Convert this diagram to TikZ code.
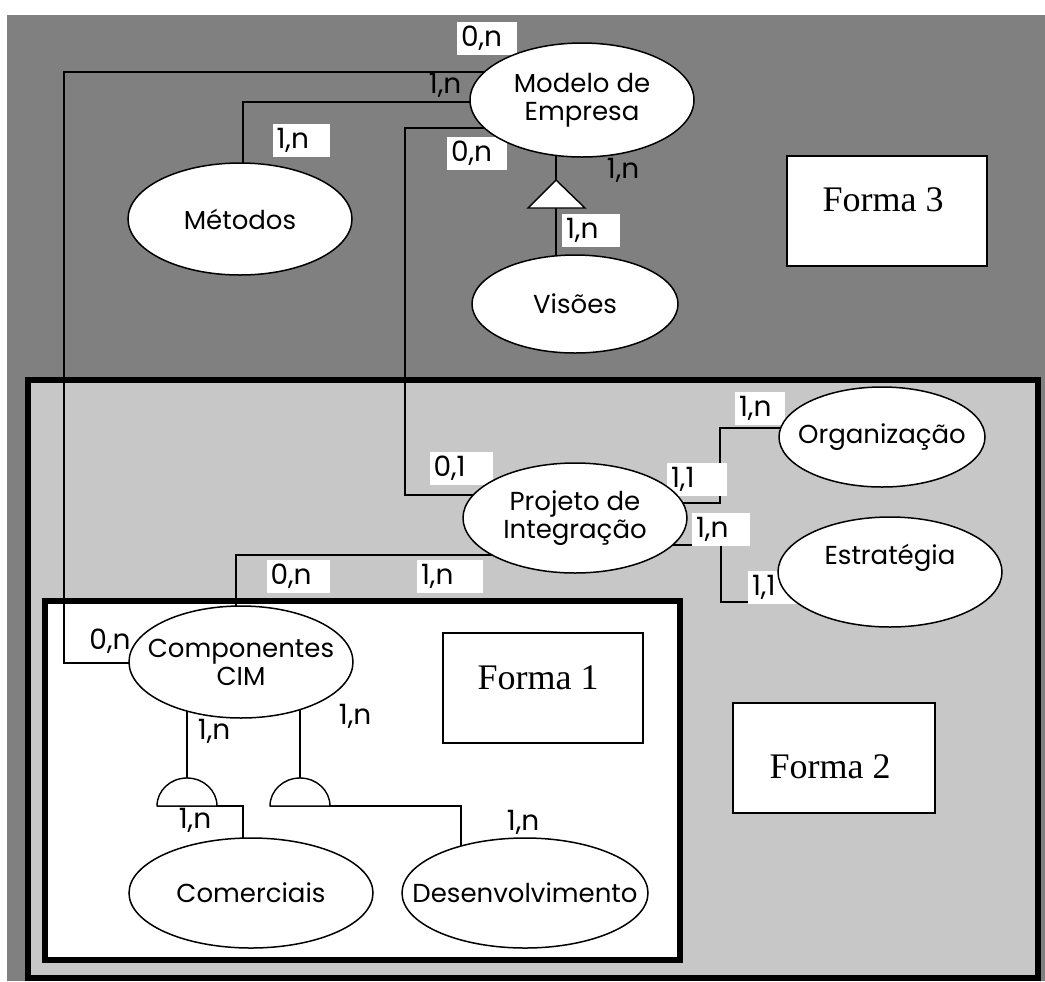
\documentclass[tikz,border=0pt]{standalone}
\usepackage{fontspec}
\setmainfont{Liberation Serif}
\newfontfamily\gothic{Poppins}
\newcommand\entfont{\gothic\fontsize{13}{14}\selectfont}
\newcommand\cardfont{\gothic\fontsize{14}{14}\selectfont}
\usetikzlibrary{shapes.geometric,calc}
\pgfdeclarelayer{back}
\pgfdeclarelayer{wires}
\pgfsetlayers{back,wires,main}

\begin{document}
\begin{tikzpicture}[x=0.5pt, y=-0.5pt,
  wire/.style={line width=0.7pt},
  ent/.style={draw, ellipse, fill=white, line width=0.75pt,
              inner xsep=-30pt, inner ysep=-10pt,
              align=center, font=\entfont},
  card/.style={fill=white, inner xsep=2pt, inner ysep=0pt, minimum height=16.5pt,
               text width=#1, align=left, font=\cardfont},
  card/.default=26pt,
  bare/.style={inner sep=0pt, font=\cardfont},
  formbox/.style={draw, fill=white, line width=0.75pt,
                  minimum width=100pt, minimum height=55pt},
  formtext/.style={font=\fontsize{18}{20}\selectfont, inner sep=0pt},
  frame/.style={line width=3pt},
  joint/.style={draw, fill=white, line width=0.7pt}]

\useasboundingbox (0,0) rectangle (1045,981);

% shaded areas of the three forms
\begin{pgfonlayer}{back}
  \fill[white] (0,0) rectangle (1045,981);
  \fill[black!50] (7,15) rectangle (1045,981);
  \draw[frame, fill=black!22] (28,380) rectangle (1038,978);
  \draw[frame, fill=white] (45,601) rectangle (680,960);
\end{pgfonlayer}

% cardinalities
\node[card] (l1) at (487,38) {0,n};
\node[bare] (l2) at (445,85) {1,n};
\node[card=24.5pt] (l3) at (301,140) {1,n};
\node[card] (l4) at (477,153) {0,n};
\node[bare] (l5) at (623,170) {1,n};
\node[card=25pt] (l6) at (591,230) {1,n};
\node[card=27.5pt] (l7) at (461,468) {0,1};
\node[card=27.5pt] (l8) at (298,576) {0,n};
\node[card=29pt] (l9) at (450,576) {1,n};
\node[card=21pt] (l10) at (760,408) {1,n};
\node[card=26pt] (l11) at (697,479) {1,1};
\node[card=25pt] (l12) at (721,529) {1,n};
\node[card=22pt] (l13) at (774,587) {1,1};
\node[bare] (l14) at (110,641) {0,n};
\node[bare] (l15) at (214,731) {1,n};
\node[bare] (l16) at (195,820) {1,n};
\node[bare] (l17) at (355,716) {1,n};
\node[bare] (l18) at (523,822) {1,n};

% entities
\node[ent, minimum width=112pt, minimum height=57pt] (modelo) at (582,100)
  {\fontsize{13}{12}\selectfont Modelo de\\Empresa};
\node[ent, minimum width=112pt, minimum height=56pt] (metodos) at (240,219) {Métodos};
\node[ent, minimum width=103pt, minimum height=49pt] (visoes) at (575,304) {Visões};
\node[ent, minimum width=112pt, minimum height=55pt] (projeto) at (575,518)
  {\fontsize{13}{19}\selectfont Projeto de\\Integração};
\node[ent, minimum width=103pt, minimum height=50pt] (organizacao) at (882,437) {Organização};
\node[ent, minimum width=112pt, minimum height=55pt] (estrategia) at (890,572) {};
\node[inner sep=0pt, font=\entfont] (estrtext) at (890,558) {Estratégia};
\node[ent, minimum width=112pt, minimum height=56pt] (comp) at (241,662)
  {\fontsize{13}{16.5}\selectfont Componentes\\CIM};
\node[ent, minimum width=122pt, minimum height=55pt] (comerciais) at (251,893) {Comerciais};
\node[ent, minimum width=123pt, minimum height=55pt] (desenv) at (525,893) {Desenvolvimento};

% form captions
\node[formbox] (f3) at (887,211) {};
\node[formtext] (f3t) at (883,200) {Forma 3};
\node[formbox] (f1) at (543,688) {};
\node[formtext] (f1t) at (538,678) {Forma 1};
\node[formbox, minimum width=101pt] (f2) at (834,758) {};
\node[formtext] (f2t) at (830,767) {Forma 2};

% corner points of the connectors
\coordinate (a1) at (64,72);
\coordinate (a2) at (64,663);
\coordinate (b1) at (243,102);
\coordinate (c1) at (405,128);
\coordinate (c2) at (405,495);
\coordinate (tapex) at (556,180);
\coordinate (tbase) at (556,208);
\coordinate (tleft) at (528,208);
\coordinate (tright) at (585,208);
\coordinate (d1) at (720,503);
\coordinate (d2) at (720,428);
\coordinate (e1) at (721,545);
\coordinate (e2) at (721,602);
\coordinate (g1) at (236,555);
\coordinate (s1) at (187,806);
\coordinate (s1top) at (187,778);
\coordinate (s1left) at (157,806);
\coordinate (h1) at (243,806);
\coordinate (s2) at (300,806);
\coordinate (s2top) at (300,778);
\coordinate (s2left) at (270,806);
\coordinate (h2) at (461,806);

% connectors
\begin{pgfonlayer}{wires}
  \draw[wire] (modelo.center |- a1) -- (a1) -- (a2) -- (comp.center |- a2);
  \draw[wire] (b1 |- metodos.center) -- (b1) -- (modelo.center |- b1);
  \draw[wire] (modelo.center |- c1) -- (c1) -- (c2) -- (projeto.center |- c2);
  \draw[wire] (tapex |- modelo.center) -- (tapex);
  \draw[wire] (tbase) -- (tbase |- visoes.center);
  \draw[wire] (projeto.center |- d1) -- (d1) -- (d2) -- (organizacao.center |- d2);
  \draw[wire] (projeto.center |- e1) -- (e1) -- (e2) -- (estrategia.center |- e2);
  \draw[wire] (g1 |- comp.center) -- (g1) -- (projeto.center |- g1);
  \draw[wire] (s1top |- comp.center) -- (s1top);
  \draw[wire] (s1left) -- (h1) -- (h1 |- comerciais.center);
  \draw[wire] (s2top |- comp.center) -- (s2top);
  \draw[wire] (s2left) -- (h2) -- (h2 |- desenv.center);
\end{pgfonlayer}

% generalisation and aggregation marks
\filldraw[joint] (tapex) -- (tright) -- (tleft) -- cycle;
\filldraw[joint] (s1left) arc[start angle=180, end angle=0, x radius=15pt, y radius=14pt] -- cycle;
\filldraw[joint] (s2left) arc[start angle=180, end angle=0, x radius=15pt, y radius=14pt] -- cycle;

\end{tikzpicture}
\end{document}
